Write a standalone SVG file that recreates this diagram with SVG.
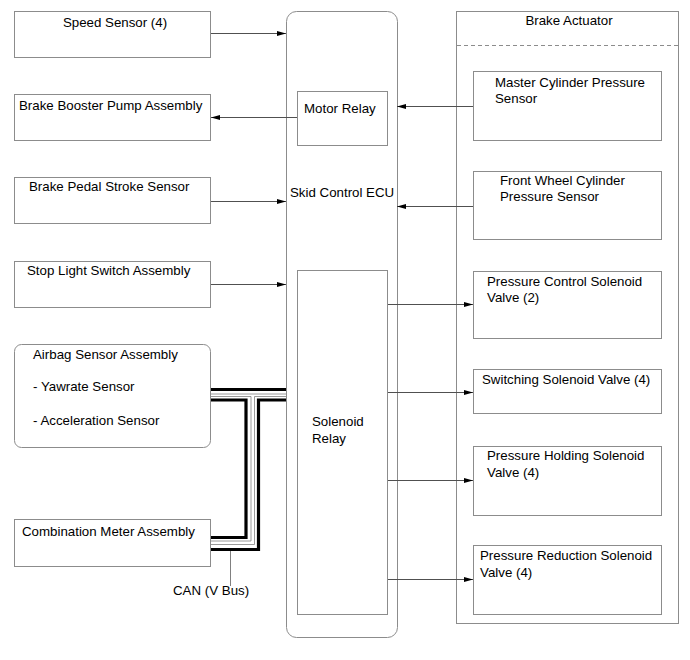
<svg xmlns="http://www.w3.org/2000/svg" width="690" height="660" viewBox="0 0 690 660">
<style>
.box{fill:#fff;stroke:#8c8c8c;stroke-width:1}
.t{font-family:"Liberation Sans",Arial,sans-serif;font-size:13.3px;fill:#000}
.c{fill:none;stroke:#505050;stroke-width:1}
.bk{fill:none;stroke:#000;stroke-width:3.2}
.gr{fill:none;stroke:#808080;stroke-width:0.8}
</style>
<defs>
<marker id="ah" markerWidth="9" markerHeight="6" refX="9" refY="3" orient="auto" markerUnits="userSpaceOnUse">
<path d="M0,0.6 L9,3 L0,5.4 Z" fill="#000"/>
</marker>
</defs>
<rect width="690" height="660" fill="#fff"/>

<g id="speed-sensor"><rect class="box" x="14.5" y="11.5" width="196" height="46"/><text class="t" x="115" y="27" text-anchor="middle">Speed Sensor (4)</text></g>
<g id="brake-booster"><rect class="box" x="14.5" y="94.5" width="196" height="46"/><text class="t" x="19" y="110">Brake Booster Pump Assembly</text></g>
<g id="brake-pedal"><rect class="box" x="14.5" y="177.5" width="196" height="46"/><text class="t" x="29" y="191">Brake Pedal Stroke Sensor</text></g>
<g id="stop-light"><rect class="box" x="14.5" y="261.5" width="196" height="46"/><text class="t" x="27" y="275">Stop Light Switch Assembly</text></g>
<g id="airbag"><rect class="box" x="14.5" y="344.5" width="196" height="103" rx="7"/>
<text class="t" x="33" y="359">Airbag Sensor Assembly</text>
<text class="t" x="33" y="391">- Yawrate Sensor</text>
<text class="t" x="33" y="425">- Acceleration Sensor</text></g>
<g id="combination-meter"><rect class="box" x="14.5" y="519.5" width="196" height="47"/><text class="t" x="22" y="536">Combination Meter Assembly</text></g>

<g id="ecu"><rect class="box" x="286.5" y="11.5" width="111" height="626" rx="10"/><text class="t" x="290" y="197">Skid Control ECU</text></g>
<g id="motor-relay"><rect class="box" x="297.5" y="91.5" width="90" height="54"/><text class="t" x="304" y="113">Motor Relay</text></g>
<g id="solenoid-relay"><rect class="box" x="297.5" y="270.5" width="90" height="344"/><text class="t" x="312" y="426">Solenoid</text><text class="t" x="312" y="443">Relay</text></g>

<g id="brake-actuator"><rect class="box" x="456.5" y="11.5" width="222" height="612"/><line x1="457" y1="45.5" x2="678" y2="45.5" stroke="#8c8c8c" stroke-dasharray="4,3"/><text class="t" x="569" y="25" text-anchor="middle">Brake Actuator</text></g>
<g id="master-cylinder"><rect class="box" x="473.5" y="71.5" width="188" height="69"/><text class="t" x="495" y="87">Master Cylinder Pressure</text><text class="t" x="495" y="103">Sensor</text></g>
<g id="front-wheel"><rect class="box" x="473.5" y="171.5" width="188" height="68"/><text class="t" x="500" y="185">Front Wheel Cylinder</text><text class="t" x="500" y="201">Pressure Sensor</text></g>
<g id="pressure-control"><rect class="box" x="473.5" y="271.5" width="188" height="67"/><text class="t" x="487" y="286">Pressure Control Solenoid</text><text class="t" x="487" y="302">Valve (2)</text></g>
<g id="switching"><rect class="box" x="473.5" y="369.5" width="188" height="44"/><text class="t" x="482" y="384">Switching Solenoid Valve (4)</text></g>
<g id="pressure-holding"><rect class="box" x="473.5" y="446.5" width="188" height="69"/><text class="t" x="487" y="460">Pressure Holding Solenoid</text><text class="t" x="487" y="477">Valve (4)</text></g>
<g id="pressure-reduction"><rect class="box" x="473.5" y="545.5" width="188" height="69"/><text class="t" x="480" y="560">Pressure Reduction Solenoid</text><text class="t" x="480" y="577">Valve (4)</text></g>

<g id="connectors">
<line class="c" x1="211" y1="33.5" x2="286" y2="33.5" marker-end="url(#ah)"/>
<line class="c" x1="297" y1="117.5" x2="211" y2="117.5" marker-end="url(#ah)"/>
<line class="c" x1="211" y1="201.5" x2="286" y2="201.5" marker-end="url(#ah)"/>
<line class="c" x1="211" y1="284.5" x2="286" y2="284.5" marker-end="url(#ah)"/>
<line class="c" x1="473" y1="106.5" x2="397" y2="106.5" marker-end="url(#ah)"/>
<line class="c" x1="473" y1="206.5" x2="397" y2="206.5" marker-end="url(#ah)"/>
<line class="c" x1="388" y1="304.5" x2="473" y2="304.5" marker-end="url(#ah)"/>
<line class="c" x1="388" y1="392.5" x2="473" y2="392.5" marker-end="url(#ah)"/>
<line class="c" x1="388" y1="480.5" x2="473" y2="480.5" marker-end="url(#ah)"/>
<line class="c" x1="388" y1="579.5" x2="473" y2="579.5" marker-end="url(#ah)"/>
<g id="can-bus">
<line class="bk" x1="211" y1="389.5" x2="286" y2="389.5"/>
<line class="gr" x1="211" y1="394" x2="286" y2="394"/>
<path class="gr" d="M211,396.5 H251 V541 H211"/>
<path class="gr" d="M286,396.5 H254.5 V544.5 H211"/>
<path class="bk" d="M211,400 H246 V537.5 H211"/>
<path class="bk" d="M286,400 H258.5 V549.5 H211"/>
<line x1="230.5" y1="551" x2="230.5" y2="586" stroke="#808080" stroke-width="1"/>
</g>
</g>
<text class="t" x="173" y="595">CAN (V Bus)</text>
</svg>
